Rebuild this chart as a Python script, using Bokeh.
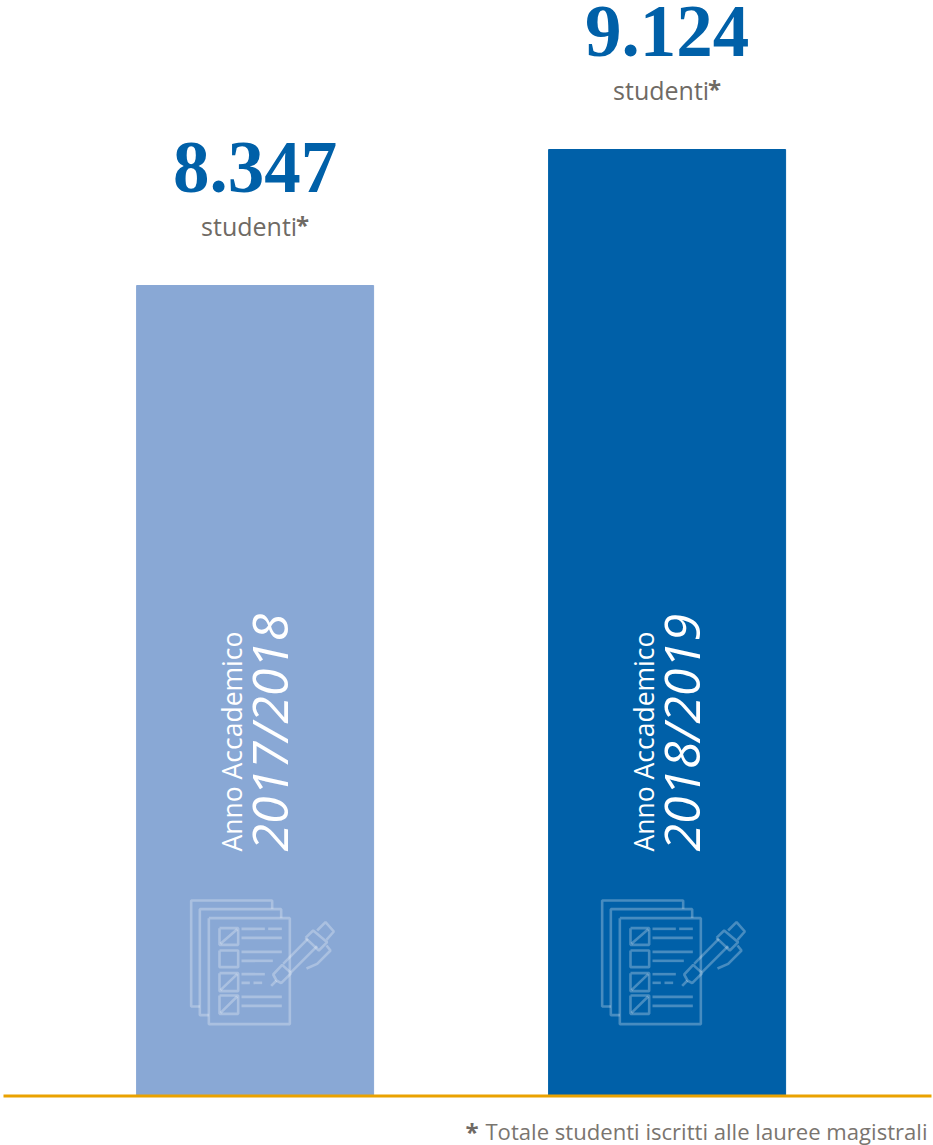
import math
from bokeh.plotting import figure
from bokeh.models import Range1d
from bokeh.core.properties import value
from bokeh.embed import file_html
from bokeh.resources import INLINE

years = ["2017/2018", "2018/2019"]
students = [8347, 9124]
value_labels = ["8.347", "9.124"]
bar_colors = ["#89a8d5", "#0060a8"]
unit_label = "studenti"
year_prefix = "Anno Accademico"
footnote = "Totale studenti iscritti alle lauree magistrali"

W, H = 933, 1145
BASE_PX = 1095
TOP_GAP = (students[1] - students[0]) / (285 - 149)   # value units per pixel
V0 = students[0] - (BASE_PX - 285) * TOP_GAP
X_UNIT = 412
X0_PX = 254.6

def xd(px):
    return (px - X0_PX) / X_UNIT

def yd(px):
    return V0 + (BASE_PX - px) * TOP_GAP

p = figure(width=W, height=H, output_backend="svg", toolbar_location=None,
           x_range=Range1d(xd(0), xd(W)), y_range=Range1d(yd(H), yd(0)),
           x_axis_location=None, y_axis_location=None,
           min_border=0, outline_line_color=None, background_fill_color="white")
p.grid.visible = False

idx = list(range(len(years)))
p.vbar(x=idx, top=students, bottom=V0, width=237 / X_UNIT, color=bar_colors)
p.segment(xd(3), yd(1095.5), xd(931), yd(1095.5), line_color="#eaa200", line_width=3)

BLUE = "#0060a8"
GREY = "#6f6a64"
p.text(x=idx, y=students, text=value_labels, text_align="center", text_baseline="alphabetic",
       y_offset=-118, text_font=value("Liberation Serif"), text_font_style="bold",
       text_font_size="73px", text_color=BLUE)
p.text(x=idx, y=students, text=[unit_label] * 2, text_align="center", text_baseline="alphabetic",
       x_offset=-6, y_offset=-60, text_font=value("Open Sans"), text_font_size="25px",
       text_color=GREY)
p.text(x=idx, y=students, text=["*"] * 2, text_align="left", text_baseline="alphabetic",
       x_offset=41, y_offset=-61, text_font=value("Open Sans"), text_font_style="bold",
       text_font_size="24px", text_color=GREY)

p.text(x=idx, y=[V0] * 2, text=[year_prefix] * 2, angle=math.pi / 2, text_align="left",
       text_baseline="alphabetic", x_offset=-23, y_offset=-244, text_font=value("Open Sans"),
       text_font_size="26.5px", text_color="white")
p.text(x=idx, y=[V0] * 2, text=years, angle=math.pi / 2, text_align="left",
       text_baseline="alphabetic", x_offset=14, y_offset=-244, text_font=value("Open Sans"),
       text_font_style="italic", text_font_size="50px", text_color="white")

# Icon outline, in pixels of a 3x crop of the icon
icon_paths = [
    [(88, 378), (62, 378), (62, 60), (305, 60), (305, 85)],
    [(115, 404), (88, 404), (88, 86), (332, 86), (332, 112)],
    [(115, 113), (358, 113), (358, 431), (115, 431), (115, 113)],
    [(147, 143), (203, 143), (203, 193), (147, 193), (147, 143)],
    [(147, 210), (203, 210), (203, 260), (147, 260), (147, 210)],
    [(147, 278), (203, 278), (203, 332), (147, 332), (147, 278)],
    [(147, 345), (203, 345), (203, 400), (147, 400), (147, 345)],
    [(150, 190), (200, 146)], [(150, 329), (200, 281)], [(150, 397), (200, 348)],
    [(213, 145), (283, 145)], [(293, 145), (334, 145)], [(213, 172), (334, 172)],
    [(213, 214), (334, 214)], [(213, 241), (307, 241)], [(213, 281), (283, 281)],
    [(213, 307), (238, 307)], [(249, 307), (275, 307)], [(213, 349), (334, 349)],
    [(213, 376), (334, 376)],
    [(302, 316), (318, 300)],
    [(318, 300), (308, 282), (335, 253), (362, 278), (332, 308), (318, 300)],
    [(338, 250), (412, 175)], [(362, 275), (440, 197)],
    [(405, 172), (428, 150), (470, 185), (445, 210), (405, 172)],
    [(440, 150), (465, 125), (490, 153), (468, 178)],
    [(468, 195), (480, 210), (440, 250), (408, 264)],
]
for i in idx:
    xs = [[xd(170 + 411 * i + a / 3) for a, b in path] for path in icon_paths]
    ys = [[yd(880 + b / 3) for a, b in path] for path in icon_paths]
    p.multi_line(xs, ys, line_color="white", line_alpha=0.28, line_width=2.6)

p.text(x=[xd(927)], y=[yd(1130)], text=[footnote], text_align="right", text_baseline="alphabetic",
       text_font=value("Open Sans"), text_font_size="22.1px", text_color="#7a756f")
p.text(x=[xd(465)], y=[yd(1131)], text=["*"], text_align="left", text_baseline="alphabetic",
       text_font=value("Open Sans"), text_font_style="bold", text_font_size="24px", text_color=GREY)

open("out.html", "w").write(file_html(p, INLINE))
